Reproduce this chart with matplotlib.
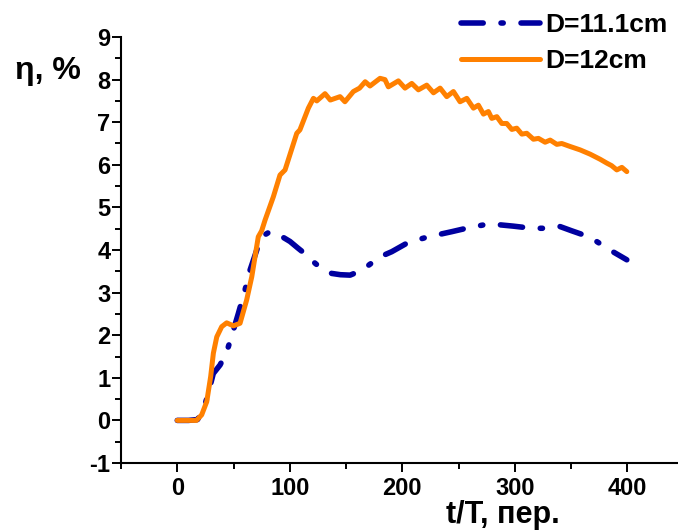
import matplotlib.pyplot as plt
from matplotlib.ticker import MultipleLocator

plt.rcParams["font.family"] = ["Liberation Sans", "DejaVu Sans"]
plt.rcParams["font.weight"] = "bold"
plt.rcParams["axes.unicode_minus"] = False

# D = 12 cm (solid orange)
x_12 = [0, 10, 17, 21.7, 26.2, 29.7, 32.1, 35.1, 39.5, 43.9, 49.9, 55.8, 61.7, 66.2,
        72, 75, 78, 85.4, 91.3, 95.8, 106.2, 109, 116.5, 121, 124, 131.3, 136, 144.7,
        149, 156.5, 162, 167, 171.3, 180.2, 184.6, 187.6, 196.5, 202.4, 208.4, 214.3,
        221.7, 227.7, 233.6, 239.5, 245.4, 251.3, 257.3, 263.2, 267.6, 272.1, 276.5,
        279.5, 284, 288.4, 292.8, 297.3, 301.7, 306.2, 310.6, 316.5, 321, 326.9, 331.4,
        337.3, 341.7, 349.1, 358, 366.9, 375.8, 381.7, 386, 390.6, 395.1, 399.5]
y_12 = [0, 0, 0, 0.13, 0.44, 1.03, 1.58, 1.96, 2.2, 2.29, 2.22, 2.28, 2.83, 3.37,
        4.31, 4.45, 4.7, 5.25, 5.76, 5.88, 6.74, 6.82, 7.33, 7.56, 7.5, 7.67, 7.52, 7.6,
        7.48, 7.72, 7.8, 7.95, 7.85, 8.03, 8.0, 7.83, 7.97, 7.8, 7.91, 7.76,
        7.87, 7.69, 7.8, 7.6, 7.72, 7.48, 7.56, 7.33, 7.4, 7.19, 7.25,
        7.09, 7.13, 6.97, 6.97, 6.83, 6.86, 6.72, 6.74, 6.6, 6.62, 6.53, 6.58,
        6.48, 6.5, 6.43, 6.35, 6.25, 6.13, 6.04, 5.98, 5.88, 5.94, 5.84]

# D = 11.1 cm (dash-dot blue)
x_111 = [0, 10, 18, 23.2, 27.6, 32, 38, 44, 49, 54.3, 60.2, 64.7, 73.6, 78, 82.4, 85.4,
         92, 100.2, 107, 115, 122, 129.8, 137.3, 145, 153.6, 160, 168.4, 180.2, 190.6,
         205.4, 223.2, 243.9, 260.2, 276.5, 287, 298.7, 315, 332.9, 340.2, 350.6, 366.9,
         383.2, 399.5]
y_111 = [0, 0, 0.02, 0.24, 0.64, 1.1, 1.3, 1.61, 2.04, 2.51, 3.06, 3.53, 4.23, 4.36, 4.43, 4.42,
         4.33, 4.2, 4.05, 3.88, 3.7, 3.53, 3.45, 3.42, 3.41, 3.48, 3.61, 3.84, 3.96,
         4.18, 4.31, 4.43, 4.53, 4.61, 4.59, 4.56, 4.51, 4.51, 4.55, 4.45, 4.3,
         4.02, 3.77]

fig = plt.figure(figsize=(6.78, 5.30), dpi=100)
ax = fig.add_axes([121 / 678, 1 - 463 / 530, 557 / 678, 426 / 530])

ax.plot(x_111, y_111, color="#0000a0", lw=4, ls=(0, (4, 3.2, 0.4, 3.2)),
        dash_capstyle="round", solid_capstyle="round", label="D=11.1cm")
ax.plot(x_12, y_12, color="#ff8000", lw=3.6, solid_capstyle="round",
        solid_joinstyle="round", label="D=12cm")

ax.set_xlim(-50, 445)
ax.set_ylim(-1, 9)
ax.xaxis.set_major_locator(MultipleLocator(100))
ax.xaxis.set_minor_locator(MultipleLocator(50))
ax.yaxis.set_major_locator(MultipleLocator(1))
ax.yaxis.set_minor_locator(MultipleLocator(0.5))

for s in ["top", "right"]:
    ax.spines[s].set_visible(False)
for s in ["left", "bottom"]:
    ax.spines[s].set_linewidth(1.5)

ax.tick_params(axis="both", which="major", length=6.5, width=1.4, labelsize=17)
ax.tick_params(axis="both", which="minor", length=4, width=1.4)
ax.tick_params(axis="y", which="major", pad=1)
ax.tick_params(axis="x", which="major", pad=3.5)

fig.text(15 / 678, 1 - 79 / 530, "η, %", fontsize=23, fontweight="bold", va="baseline")
fig.text(503 / 678, 1 - 523 / 530, "t/T, пер.", fontsize=22, fontweight="bold",
         ha="center", va="baseline")

ax.legend(loc="upper left", bbox_to_anchor=(461 / 678, 1 - 13 / 530),
          bbox_transform=fig.transFigure, frameon=False, fontsize=19,
          handlelength=3.0, handletextpad=0.2, labelspacing=0.45, borderpad=0,
          borderaxespad=0)

fig.savefig("out.png", dpi=100)
